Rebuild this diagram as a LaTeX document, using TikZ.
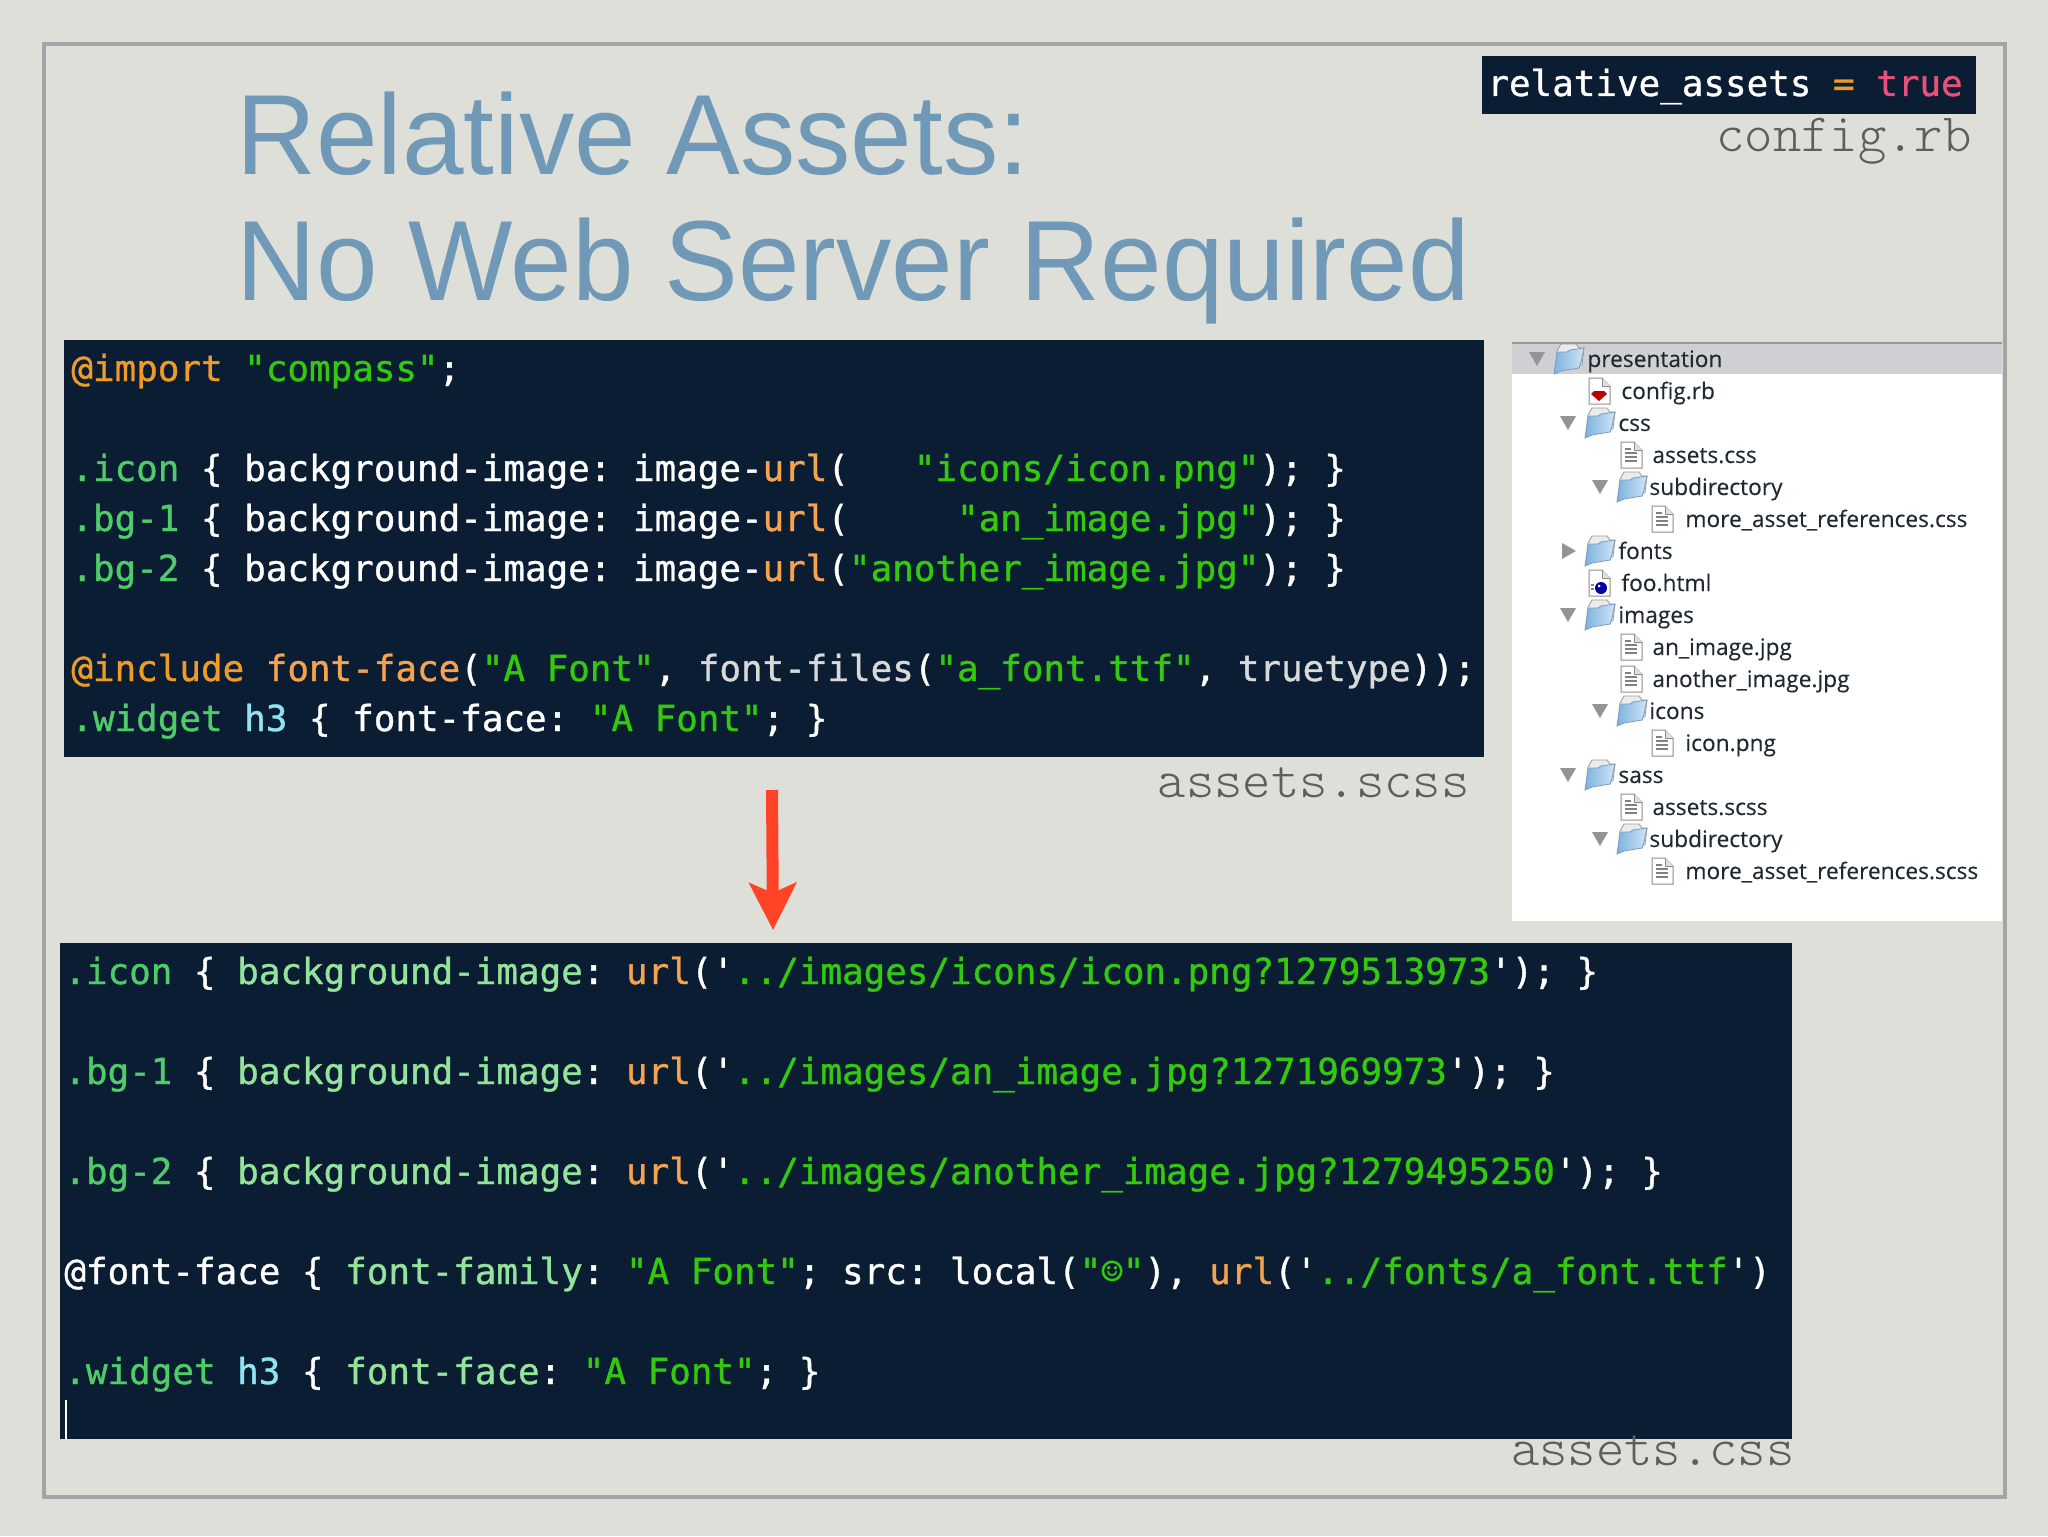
\documentclass[tikz,border=0pt]{standalone}
\usepackage{fontspec}
\setmainfont{Liberation Sans}
\newfontfamily\titlefont[FakeStretch=0.97]{Liberation Sans}
\newfontfamily\codefont[FakeBold=1]{DejaVu Sans Mono}
\newfontfamily\treefont[FakeBold=0.2]{Open Sans}
\usetikzlibrary{arrows.meta}
\frenchspacing

\definecolor{pagebg}{HTML}{DDDFD8}
\definecolor{framegray}{HTML}{A2A4A8}
\definecolor{titleblue}{HTML}{7099B8}
\definecolor{codebg}{HTML}{0B1D33}
\definecolor{strgreen}{HTML}{33C90F}
\definecolor{selgreen}{HTML}{4FCB6A}
\definecolor{propgreen}{HTML}{93E39A}
\definecolor{urlorange}{HTML}{F5A34E}
\definecolor{atorange}{HTML}{F09A28}
\definecolor{callgray}{HTML}{D9D9D9}
\definecolor{tagcyan}{HTML}{8FE3F2}
\definecolor{truepink}{HTML}{E8507A}
\definecolor{arrowred}{HTML}{FF4326}
\definecolor{labelgray}{HTML}{5E5E5E}
\definecolor{rowgray}{HTML}{D0D0D4}
\definecolor{treetext}{HTML}{1F2A30}
\definecolor{folderleft}{HTML}{7FB2DE}
\definecolor{folderright}{HTML}{CFE4F6}
\definecolor{folderedge}{HTML}{7C9CBC}

\newcommand{\codestr}[1]{{\color{strgreen}#1}}
\newcommand{\codesel}[1]{{\color{selgreen}#1}}
\newcommand{\codeprop}[1]{{\color{propgreen}#1}}
\newcommand{\codeurl}[1]{{\color{urlorange}#1}}
\newcommand{\codeat}[1]{{\color{atorange}#1}}
\newcommand{\codecall}[1]{{\color{callgray}#1}}
\newcommand{\codetag}[1]{{\color{tagcyan}#1}}

\tikzstyle{titleline} = [anchor=base west, inner sep=0pt, text=titleblue, font=\titlefont\fontsize{57}{60}\selectfont]
\tikzstyle{codepanel} = [fill=codebg, inner sep=0pt]
\tikzstyle{codeline} = [anchor=base west, inner sep=0pt, text=white, font=\codefont\fontsize{17.94}{20}\selectfont]
\tikzstyle{filelabel} = [anchor=base east, inner sep=0pt, text=labelgray, font=\ttfamily\fontseries{l}\fontsize{27}{30}\selectfont]
\tikzstyle{treeline} = [anchor=base west, inner sep=0pt, text=treetext, font=\treefont\fontsize{11.35}{13}\selectfont]
\tikzstyle{tridown} = [fill=black!42]
\tikzset{
	folderpic/.pic={
		\draw[fill=black!8, draw=black!40, line width=0.4pt] (3,-8) -- (7,-15) -- (22,-15) -- (25,-11) -- (30,-11) -- (28,6) -- (3,6) -- cycle;
		\shade[left color=folderleft, right color=folderright, draw=folderedge, line width=0.4pt] (0,15) -- (3,-7) -- (13,-7) -- (16,-9) -- (30,-11) -- (27,3) -- (25,9) -- (7,12) -- cycle;
	},
	filepic/.pic={
		\draw[fill=white, draw=black!45, line width=0.5pt] (0,-13) -- (13,-13) -- (21,-5) -- (21,13) -- (0,13) -- cycle;
		\draw[fill=black!12, draw=black!45, line width=0.4pt] (13,-13) -- (13,-5) -- (21,-5);
	},
	textfilepic/.pic={
		\pic {filepic};
		\draw[black!50, line width=0.8pt] (4,-6) -- (10,-6) (4,-2) -- (16,-2) (4,2) -- (16,2) (4,6) -- (16,6);
	},
	rubyfilepic/.pic={
		\pic {filepic};
		\fill[red!75!black] (2,3) -- (5,0) -- (15,0) -- (18,3) -- (10,10) -- cycle;
	},
	htmlfilepic/.pic={
		\pic {filepic};
		\fill[blue!65!black] (12,5) circle (6);
		\fill[white] (10,3) circle (1.5);
		\draw[black!50, line width=0.8pt] (2,2) -- (5,2) (2,6) -- (5,6);
	},
	openarrow/.pic={
		\fill[tridown] (-8,-7) -- (8,-7) -- (0,7) -- cycle;
	},
	closedarrow/.pic={
		\fill[tridown] (-7,-8) -- (7,0) -- (-7,8) -- cycle;
	}
}

\begin{document}
\begin{tikzpicture}[x=0.5pt, y=-0.5pt]
\useasboundingbox (0,0) rectangle (2048,1536);
\fill[pagebg] (0,0) rectangle (2048,1536);
\draw[framegray, line width=2pt] (44,44) rectangle (2005,1497);

\node[titleline] (titleA) at (236,174) {Relative Assets:};
\node[titleline] (titleB) at (236,300) {No Web Server Required};

\node[codepanel, minimum width=247pt, minimum height=29pt] (configbox) at (1729,85) {};
\node[codeline] (configline) at (1487,96) {relative\_assets {\color{atorange}=} {\color{truepink}true}};
\node[filelabel] (configlabel) at (1972,151) {config.rb};

\node[codepanel, minimum width=710pt, minimum height=208.5pt] (codeA) at (774,548.5) {};
\node[codeline] (importA) at (71,381) {\codeat{@import} \codestr{"compass"};};
\node[codeline] (iconA) at (71,481) {\codesel{.icon} \{ background-image: image-\codeurl{url}(\ \ \ \codestr{"icons/icon.png"}); \}};
\node[codeline] (bgoneA) at (71,531) {\codesel{.bg-1} \{ background-image: image-\codeurl{url}(\ \ \ \ \ \codestr{"an\_image.jpg"}); \}};
\node[codeline] (bgtwoA) at (71,581) {\codesel{.bg-2} \{ background-image: image-\codeurl{url}(\codestr{"another\_image.jpg"}); \}};
\node[codeline] (includeA) at (71,681) {\codeat{@include} \codeurl{font-face}(\codestr{"A Font"}, \codecall{font-files}(\codestr{"a\_font.ttf"}, \codecall{truetype}));};
\node[codeline] (widgetA) at (71,731) {\codesel{.widget} \codetag{h3} \{ font-face: \codestr{"A Font"}; \}};
\node[filelabel] (scsslabel) at (1470,797) {assets.scss};

\coordinate (arrowtop) at (772,790);
\coordinate (arrowtip) at (773,930);
\draw[arrowred, line width=6pt, -{Stealth[length=23.5pt, width=23.5pt, inset=5pt]}] (arrowtop) -- (arrowtip);

\node[codepanel, minimum width=866pt, minimum height=248pt] (codeB) at (926,1191) {};
\node[codeline] (iconB) at (64,984) {\codesel{.icon} \{ \codeprop{background-image}: \codeurl{url}('\codestr{../images/icons/icon.png?1279513973}'); \}};
\node[codeline] (bgoneB) at (64,1084) {\codesel{.bg-1} \{ \codeprop{background-image}: \codeurl{url}('\codestr{../images/an\_image.jpg?1271969973}'); \}};
\node[codeline] (bgtwoB) at (64,1184) {\codesel{.bg-2} \{ \codeprop{background-image}: \codeurl{url}('\codestr{../images/another\_image.jpg?1279495250}'); \}};
\node[codeline] (fontfaceB) at (64,1284) {@font-face \{ \codeprop{font-family}: \codestr{"A Font"}; src: local(\codestr{"☺"}), \codeurl{url}('\codestr{../fonts/a\_font.ttf}')};
\node[codeline] (widgetB) at (64,1384) {\codesel{.widget} \codetag{h3} \{ \codeprop{font-face}: \codestr{"A Font"}; \}};
\coordinate (cursortop) at (66,1400);
\coordinate (cursorend) at (66,1439);
\draw[white, line width=0.8pt] (cursortop) -- (cursorend);
\node[filelabel] (csslabel) at (1795,1465) {assets.css};

\fill[white] (1512,342) rectangle (2002,921);
\fill[rowgray] (1512,343) rectangle (2002,374);
\draw[black!40, line width=1pt] (1512,343) -- (2002,343);

\pic at (1537,359) {openarrow};
\pic at (1554,359) {folderpic};
\node[treeline] (presentation) at (1587,367) {presentation};
\pic at (1589,391) {rubyfilepic};
\node[treeline] (configrb) at (1621,399) {config.rb};
\pic at (1568,423) {openarrow};
\pic at (1585,423) {folderpic};
\node[treeline] (css) at (1618,431) {css};
\pic at (1621,455) {textfilepic};
\node[treeline] (assetscss) at (1652,463) {assets.css};
\pic at (1600,487) {openarrow};
\pic at (1617,487) {folderpic};
\node[treeline] (subdirA) at (1649,495) {subdirectory};
\pic at (1652,519) {textfilepic};
\node[treeline] (morecss) at (1685,527) {more\_asset\_references.css};
\pic at (1569,551) {closedarrow};
\pic at (1585,551) {folderpic};
\node[treeline] (fonts) at (1618,559) {fonts};
\pic at (1589,583) {htmlfilepic};
\node[treeline] (foohtml) at (1621,591) {foo.html};
\pic at (1568,615) {openarrow};
\pic at (1585,615) {folderpic};
\node[treeline] (images) at (1618,623) {images};
\pic at (1621,647) {textfilepic};
\node[treeline] (anjpg) at (1652,655) {an\_image.jpg};
\pic at (1621,679) {textfilepic};
\node[treeline] (anotherjpg) at (1652,687) {another\_image.jpg};
\pic at (1600,711) {openarrow};
\pic at (1617,711) {folderpic};
\node[treeline] (icons) at (1649,719) {icons};
\pic at (1652,743) {textfilepic};
\node[treeline] (iconpng) at (1685,751) {icon.png};
\pic at (1568,775) {openarrow};
\pic at (1585,775) {folderpic};
\node[treeline] (sass) at (1618,783) {sass};
\pic at (1621,807) {textfilepic};
\node[treeline] (assetsscss) at (1652,815) {assets.scss};
\pic at (1600,839) {openarrow};
\pic at (1617,839) {folderpic};
\node[treeline] (subdirB) at (1649,847) {subdirectory};
\pic at (1652,871) {textfilepic};
\node[treeline] (morescss) at (1685,879) {more\_asset\_references.scss};
\end{tikzpicture}
\end{document}
